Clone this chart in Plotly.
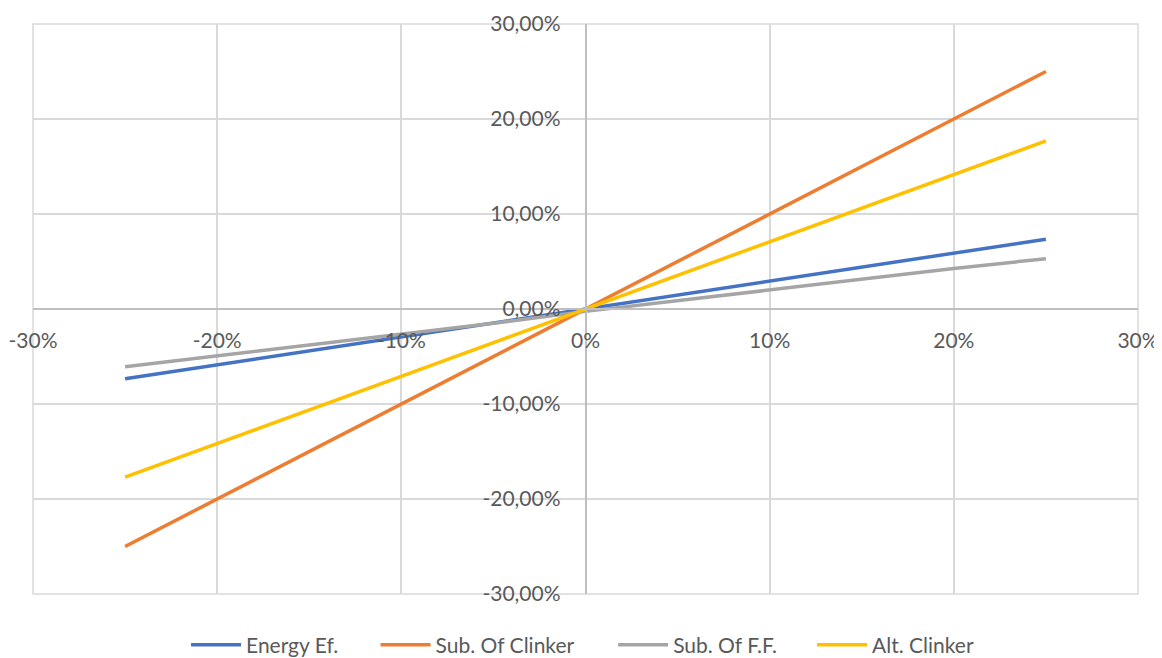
import plotly.graph_objects as go

# x values (%)
x_vals = [-25, -20, -15, -10, -5, 0, 5, 10, 15, 20, 25]

energy_ef = [-7.35, -5.88, -4.41, -2.96, -1.47, 0.0, 1.47, 2.96, 4.41, 5.88, 7.35]
sub_clinker = [-25.0, -20.0, -15.0, -10.0, -5.0, 0.0, 5.0, 10.0, 15.0, 20.0, 25.0]
sub_ff = [-6.07, -4.95, -3.8, -2.7, -1.5, -0.25, 0.9, 2.03, 3.15, 4.26, 5.3]
alt_clinker = [-17.7, -14.16, -10.62, -7.08, -3.54, 0.0, 3.54, 7.08, 10.62, 14.16, 17.7]

series_names = ["Energy Ef.", "Sub. Of Clinker", "Sub. Of F.F.", "Alt. Clinker"]
series_colors = ["#4472C4", "#ED7D31", "#A5A5A5", "#FFC000"]
legend_x = [0.1385, 0.3100, 0.5250, 0.7050]  # legend entry positions (paper fraction)

x_ticks = [-30, -20, -10, 0, 10, 20, 30]
x_tick_text = ["-30%", "-20%", "-10%", "0%", "10%", "20%", "30%"]
y_ticks = [-30, -20, -10, 0, 10, 20, 30]
y_tick_text = ["-30,00%", "-20,00%", "-10,00%", "0,00%", "10,00%", "20,00%", "30,00%"]

font_family = "Lato, 'Open Sans', sans-serif"
text_color = "#595959"
grid_color = "#D9D9D9"

fig = go.Figure()
legend_ids = ["legend", "legend2", "legend3", "legend4"]
for name, color, ys, lid in zip(series_names, series_colors,
                                [energy_ef, sub_clinker, sub_ff, alt_clinker], legend_ids):
    fig.add_trace(go.Scatter(
        x=x_vals, y=ys, mode="lines", name=name, legend=lid,
        line=dict(color=color, width=3.5),
    ))

# plot-area border (Excel outer gridlines)
fig.add_shape(type="rect", xref="paper", yref="paper", x0=0, x1=1, y0=0, y1=1,
              line=dict(color=grid_color, width=1.5), layer="below")

legend_common = dict(
    orientation="h", xanchor="left", y=-0.0895, yanchor="middle",
    font=dict(size=21, color=text_color), itemwidth=50,
    bgcolor="rgba(0,0,0,0)",
)

fig.update_layout(
    width=1154, height=650,
    paper_bgcolor="white", plot_bgcolor="white",
    margin=dict(l=25, r=24, t=16, b=64, autoexpand=False),
    font=dict(family=font_family, size=21, color=text_color),
    showlegend=True,
    legend=dict(x=legend_x[0], **legend_common),
    legend2=dict(x=legend_x[1], **legend_common),
    legend3=dict(x=legend_x[2], **legend_common),
    legend4=dict(x=legend_x[3], **legend_common),
    xaxis=dict(
        range=[-30, 30], tickvals=x_ticks, ticktext=x_tick_text,
        showgrid=True, gridcolor=grid_color, gridwidth=1.5,
        zeroline=False, showline=True, linecolor="#BFBFBF", linewidth=1.5,
        anchor="free", position=0.5, ticks="", ticklabelstandoff=13,
        automargin=False,
        tickfont=dict(size=21, color=text_color),
    ),
    yaxis=dict(
        range=[-30, 30], tickvals=y_ticks, ticktext=y_tick_text,
        showgrid=True, gridcolor=grid_color, gridwidth=1.5,
        zeroline=False, showline=True, linecolor="#BFBFBF", linewidth=1.5,
        anchor="free", position=0.5, ticks="", ticklabelstandoff=20,
        automargin=False,
        tickfont=dict(size=21, color=text_color),
    ),
)

fig.write_html("out.html")
